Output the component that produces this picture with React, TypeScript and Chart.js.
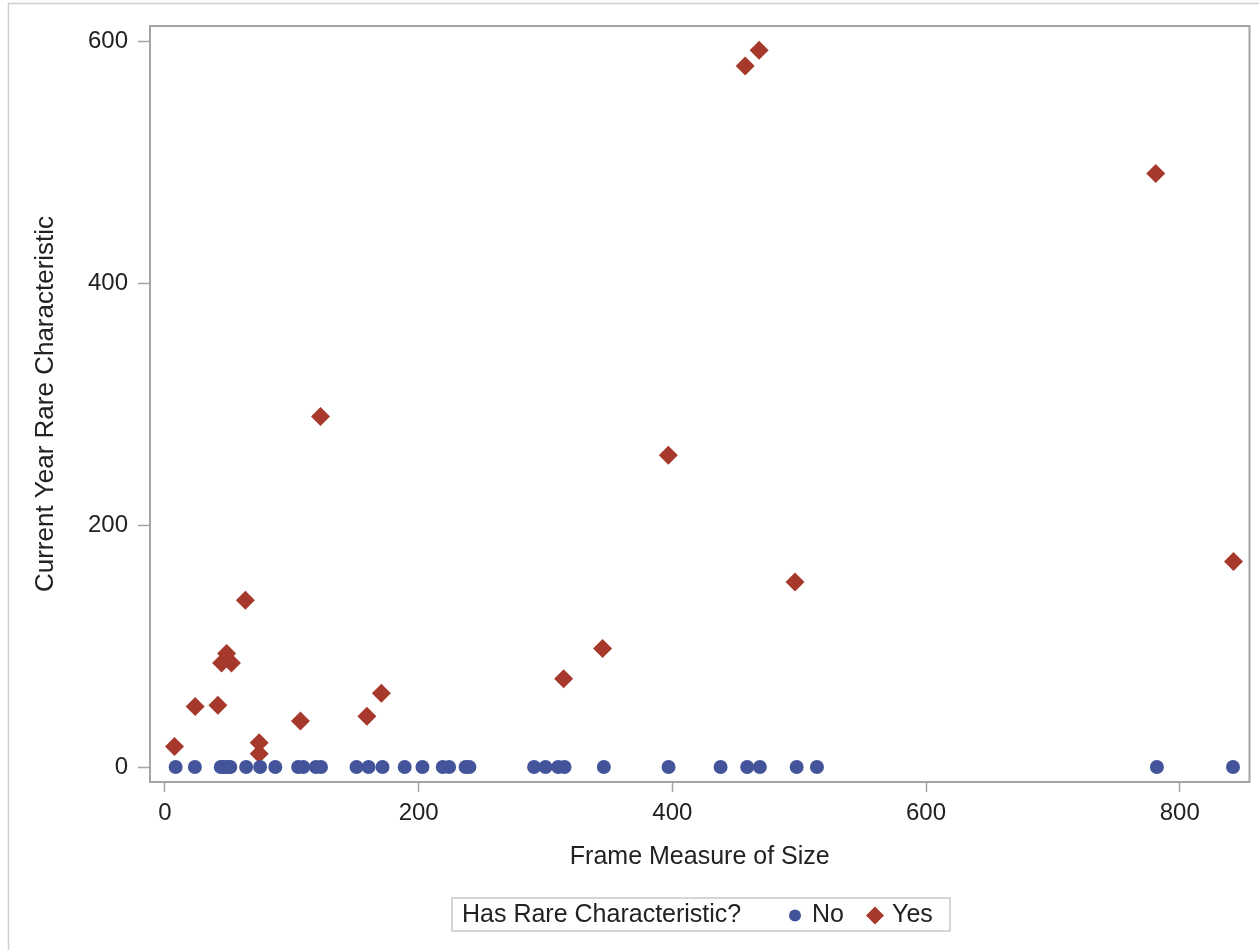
import React, { useEffect, useRef } from "react";
import { Chart, registerables } from "chart.js";

Chart.register(...registerables);

// ---- Data ----
const noX = [8.4, 23.6, 44, 46, 48, 50, 51.5, 64, 75, 87, 105, 109, 119, 123, 151, 160.5, 171.5, 189, 203, 219, 224, 237, 240, 291, 300, 310, 315, 346, 397, 438, 459, 469, 498, 514, 782, 842];
const noY = [0, 0, 0, 0, 0, 0, 0, 0, 0, 0, 0, 0, 0, 0, 0, 0, 0, 0, 0, 0, 0, 0, 0, 0, 0, 0, 0, 0, 0, 0, 0, 0, 0, 0, 0, 0];

const yesX = [7.5, 23.8, 41.7, 44.6, 48.6, 52.4, 63.4, 74.3, 74.3, 106.8, 122.6, 159.2, 170.6, 314.3, 345, 396.8, 457.4, 468.4, 496.7, 781.1, 842.4];
const yesY = [17, 50, 51, 86, 94, 86, 138, 20, 11, 38, 290, 42, 61, 73, 98, 258, 580, 593, 153, 491, 170];

const xTicks = [0, 200, 400, 600, 800];
const yTicks = [0, 200, 400, 600];

const seriesNames = ["No", "Yes"];
const legendTitle = "Has Rare Characteristic?";
const xTitle = "Frame Measure of Size";
const yTitle = "Current Year Rare Characteristic";

const BLUE = "#43549b";
const RED = "#a6382c";
const FONT = "'Liberation Sans', Arial, sans-serif";
const TEXT = "#222222";
const AXIS = "#a4a4a4";

const decorPlugin = {
  id: "decor",
  afterDraw(chart: any) {
    const { ctx, chartArea } = chart;
    ctx.save();
    // outer image border (top and left)
    ctx.strokeStyle = "#cfcfcf";
    ctx.lineWidth = 1.5;
    ctx.beginPath();
    ctx.moveTo(8.5, 950);
    ctx.lineTo(8.5, 3.5);
    ctx.lineTo(1259, 3.5);
    ctx.stroke();
    // plot frame
    ctx.strokeStyle = AXIS;
    ctx.lineWidth = 2;
    ctx.strokeRect(chartArea.left, chartArea.top, chartArea.right - chartArea.left, chartArea.bottom - chartArea.top);
    // legend box
    const bx = 452, by = 898, bw = 498, bh = 33;
    ctx.strokeStyle = "#c8c8c8";
    ctx.lineWidth = 1.5;
    ctx.strokeRect(bx, by, bw, bh);
    ctx.fillStyle = TEXT;
    ctx.font = `25px ${FONT}`;
    ctx.textBaseline = "middle";
    ctx.textAlign = "left";
    const cy = by + bh / 2 + 1;
    ctx.fillText(legendTitle, 462, cy);
    // No marker
    ctx.fillStyle = BLUE;
    ctx.beginPath();
    ctx.arc(795, cy, 6, 0, Math.PI * 2);
    ctx.fill();
    ctx.fillStyle = TEXT;
    ctx.fillText(seriesNames[0], 812, cy);
    // Yes marker
    ctx.fillStyle = RED;
    ctx.beginPath();
    ctx.moveTo(875, cy - 9);
    ctx.lineTo(884, cy);
    ctx.lineTo(875, cy + 9);
    ctx.lineTo(866, cy);
    ctx.closePath();
    ctx.fill();
    ctx.fillStyle = TEXT;
    ctx.fillText(seriesNames[1], 892, cy);
    ctx.restore();
  },
};

export default function App() {
  const ref = useRef<HTMLCanvasElement | null>(null);

  useEffect(() => {
    if (!ref.current) return;
    const chart = new Chart(ref.current, {
      type: "scatter",
      data: {
        datasets: [
          {
            label: seriesNames[0],
            data: noX.map((x, i) => ({ x, y: noY[i] })),
            backgroundColor: BLUE,
            borderColor: BLUE,
            borderWidth: 0,
            pointStyle: "circle",
            pointRadius: 7,
            pointHoverRadius: 7,
          },
          {
            label: seriesNames[1],
            data: yesX.map((x, i) => ({ x, y: yesY[i] })),
            backgroundColor: RED,
            borderColor: RED,
            borderWidth: 0,
            pointStyle: "rectRot",
            pointRadius: 9.5,
            pointHoverRadius: 9.5,
          },
        ],
      },
      options: {
        responsive: false,
        animation: false,
        events: [],
        layout: { padding: { left: 0, top: 26, right: 6, bottom: 78 } },
        plugins: {
          legend: { display: false },
          tooltip: { enabled: false },
        },
        scales: {
          x: {
            type: "linear",
            min: -11.8,
            max: 855,
            afterBuildTicks: (s: any) => {
              s.ticks = xTicks.map((v) => ({ value: v }));
            },
            afterFit: (s: any) => {
              s.height = 90;
            },
            grid: {
              display: true,
              drawOnChartArea: false,
              drawTicks: true,
              tickLength: 10,
              tickColor: AXIS,
              tickWidth: 1.5,
              color: AXIS,
            },
            border: { display: false },
            ticks: {
              font: { family: FONT, size: 24 },
              color: TEXT,
              padding: 7,
              maxRotation: 0,
              autoSkip: false,
            },
            title: {
              display: true,
              text: xTitle,
              font: { family: FONT, size: 25 },
              color: TEXT,
              padding: { top: 0, bottom: 0 },
            },
          },
          y: {
            type: "linear",
            min: -12.4,
            max: 613,
            afterBuildTicks: (s: any) => {
              s.ticks = yTicks.map((v) => ({ value: v }));
            },
            afterFit: (s: any) => {
              s.width = 150;
            },
            grid: {
              display: true,
              drawOnChartArea: false,
              drawTicks: true,
              tickLength: 12,
              tickColor: AXIS,
              tickWidth: 1.5,
              color: AXIS,
            },
            border: { display: false },
            ticks: {
              font: { family: FONT, size: 24 },
              color: TEXT,
              padding: 10,
              autoSkip: false,
            },
            title: {
              display: true,
              text: yTitle,
              font: { family: FONT, size: 26 },
              color: TEXT,
              padding: { top: 30, bottom: 0 },
            },
          },
        },
      },
      plugins: [decorPlugin],
    });
    return () => chart.destroy();
  }, []);

  return (
    <div style={{ position: "fixed", left: 0, top: 0, width: 1259, height: 950, background: "#fff" }}>
      <canvas ref={ref} width={1259} height={950} style={{ display: "block", width: 1259, height: 950 }} />
    </div>
  );
}
